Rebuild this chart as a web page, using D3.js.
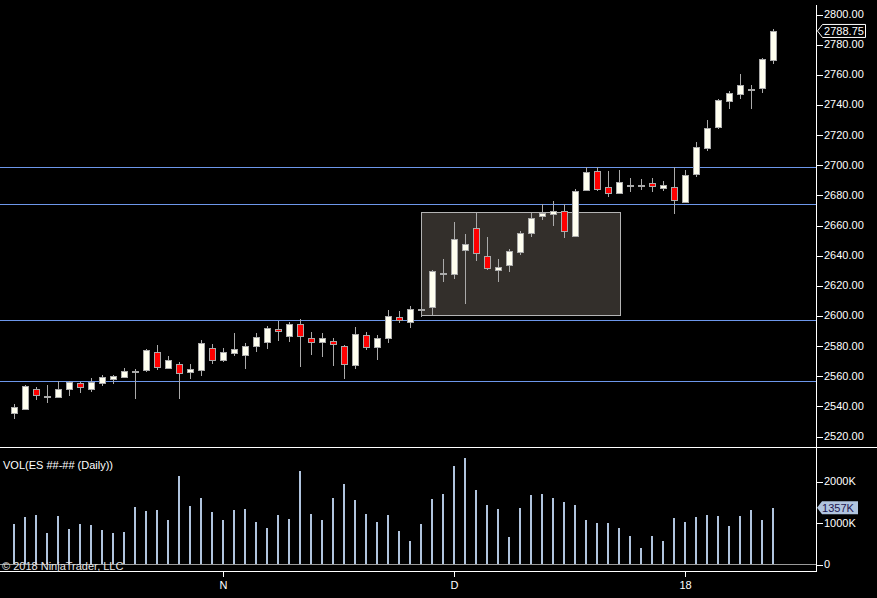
<!DOCTYPE html>
<html>
<head>
    <title>ES Daily</title>
    <script src="https://d3js.org/d3.v7.min.js"></script>
    <style>
        body { margin: 0; background: #000; }
        svg { display: block; }
        text { font-family: Arial, "Liberation Sans", sans-serif; font-size: 11px; fill: #fff; }
        .axis line { stroke: #fff; shape-rendering: crispEdges; }
        .axis path { display: none; }
    </style>
</head>
<body>
    <div id="chart"></div>
    <script>
        const width = 877, height = 598

        // daily bars, oldest first
        const opens = [2535.5, 2538, 2551.5, 2546.5, 2546, 2551.5, 2555, 2551, 2555, 2558,
            2559.25, 2563.5, 2563.5, 2575.5, 2565.25, 2567.5, 2562.25, 2564, 2578.25, 2570.5,
            2575.25, 2574, 2580, 2582.5, 2590.75, 2586.5, 2594, 2584.75, 2582.5, 2582.75,
            2579.5, 2567, 2586.75, 2578.75, 2584.75, 2598.75, 2595.75, 2604.5, 2605.5, 2628.5,
            2627.75, 2643.5, 2657.75, 2639.25, 2630, 2633.25, 2642.25, 2655, 2666.25, 2667.5,
            2669, 2653, 2683, 2695.5, 2685, 2681.25, 2686.75, 2686.5, 2687.75, 2684.25,
            2685, 2675.25, 2694, 2711, 2725.25, 2742.25, 2746.75, 2750.25, 2750.75, 2769.25]
        const highs = [2541, 2554, 2552.75, 2554, 2556.25, 2556.25, 2556, 2558.25, 2560.25, 2560.25,
            2565, 2564.25, 2577.5, 2580.5, 2573, 2569, 2567.75, 2583.5, 2580.75, 2578.25,
            2588.25, 2581.75, 2588.25, 2593, 2596.25, 2595.5, 2597.5, 2589, 2588.25, 2585,
            2580.25, 2592, 2589, 2586.75, 2603.5, 2603, 2606.25, 2606, 2630, 2637.5,
            2662, 2654, 2668.25, 2652, 2637.5, 2644.25, 2656, 2668.25, 2673.75, 2676,
            2674, 2683.75, 2698.25, 2698.25, 2695.75, 2696.5, 2691.5, 2690.25, 2691, 2689.25,
            2698.25, 2696.5, 2714.75, 2729.75, 2743.5, 2749, 2760.5, 2752.75, 2770.75, 2790.25]
        const lows = [2531.5, 2537, 2544, 2542, 2545.5, 2546.75, 2548.75, 2549.5, 2553.5, 2554.75,
            2558.75, 2544.75, 2562.25, 2564, 2564.5, 2544.25, 2557.75, 2560, 2568, 2569,
            2573.25, 2564.5, 2575.75, 2577.75, 2583.25, 2582.5, 2566, 2574, 2572.5, 2566.5,
            2558, 2564.5, 2577, 2570.5, 2582, 2595.25, 2591.75, 2599, 2600, 2622.5,
            2624.5, 2607.75, 2636.25, 2630, 2622.5, 2629, 2640.25, 2652.25, 2663.25, 2659.25,
            2651.5, 2652.25, 2682.75, 2682.5, 2678.75, 2680.75, 2682, 2683.25, 2682, 2682.5,
            2667.5, 2674.75, 2692, 2709, 2724, 2736.75, 2743.5, 2736.75, 2747.75, 2767]
        const closes = [2539, 2553, 2547.5, 2546.25, 2551.5, 2555.75, 2552.25, 2555.5, 2559, 2559.5,
            2563, 2563.25, 2577, 2566, 2570.25, 2561.5, 2564.25, 2581.5, 2570.5, 2575.75,
            2577.5, 2579.75, 2585.75, 2591.5, 2589.5, 2594.25, 2586.5, 2582.25, 2584.75, 2580.75,
            2567.5, 2588, 2578.75, 2584.75, 2599.5, 2597, 2604, 2604.25, 2629.5, 2628.25,
            2651, 2647.25, 2641.25, 2631.25, 2632, 2642.75, 2654.75, 2664.5, 2668, 2669,
            2656.25, 2682.25, 2695.25, 2684, 2681.5, 2688.25, 2686.5, 2686.75, 2686, 2686.5,
            2676.5, 2693, 2711.5, 2724.25, 2742.75, 2747.5, 2752.75, 2750, 2770, 2788.75]
        // volume in thousands of contracts
        const volumes = [964, 1133, 1181, 747, 1157, 843, 964, 940, 819, 747,
            771, 1373, 1277, 1301, 1060, 2120, 1398, 1590, 1253, 1060,
            1301, 1325, 1012, 867, 1181, 1084, 2241, 1205, 1060, 1590,
            1928, 1542, 1205, 1012, 1181, 795, 554, 964, 1566, 1687,
            2361, 2554, 1783, 1422, 1325, 651, 1349, 1663, 1687, 1590,
            1494, 1422, 1060, 988, 988, 867, 675, 386, 675, 554,
            1108, 1012, 1133, 1181, 1157, 916, 1157, 1301, 1060, 1357]

        // month labels on the time axis (bar index where the month starts)
        const monthStarts = [19, 40, 61]
        const monthLabels = ["N", "D", "18"]

        // drawn objects
        const levelPrices = [2698.5, 2674, 2597, 2556.5]
        const zoneBars = [37, 55.1]
        const zonePrices = [2600.25, 2668.5]

        const priceTicks = d3.range(2520, 2801, 20)
        const volumeTicks = [0, 1000, 2000]

        const bars = closes.map((c, i) => ({ i, o: opens[i], h: highs[i], l: lows[i], c, v: volumes[i] }))

        const axisX = 816
        const x = d3.scaleLinear().domain([0, bars.length - 1]).range([13.7, 772.7])
        const y = d3.scaleLinear().domain([2520, 2800]).range([436, 14])
        const yv = d3.scaleLinear().domain([0, 2000]).range([564, 481])

        const svg = d3.select("#chart").append("svg")
            .attr("width", width)
            .attr("height", height)
        svg.append("rect").attr("width", width).attr("height", height).attr("fill", "#000")

        const px = v => Math.round(v) + 0.5

        // zone box
        svg.append("rect")
            .attr("x", px(x(zoneBars[0])))
            .attr("y", px(y(zonePrices[1])))
            .attr("width", Math.round(x(zoneBars[1]) - x(zoneBars[0])))
            .attr("height", Math.round(y(zonePrices[0]) - y(zonePrices[1])))
            .attr("fill", "#332f2b")
            .attr("stroke", "#b4b4b4")
            .attr("stroke-width", 1)
            .attr("shape-rendering", "crispEdges")

        // horizontal levels
        svg.append("g").selectAll("line")
            .data(levelPrices)
            .join("line")
            .attr("x1", 0)
            .attr("x2", axisX)
            .attr("y1", d => px(y(d)))
            .attr("y2", d => px(y(d)))
            .attr("stroke", "#6d97ea")
            .attr("shape-rendering", "crispEdges")

        // candles
        const candles = svg.append("g").attr("shape-rendering", "crispEdges")
        const groups = candles.selectAll("g")
            .data(bars)
            .join("g")

        groups.append("line")
            .attr("x1", d => Math.round(x(d.i)) + 0.5)
            .attr("x2", d => Math.round(x(d.i)) + 0.5)
            .attr("y1", d => Math.round(y(d.h)))
            .attr("y2", d => Math.round(y(d.l)))
            .attr("stroke", "#aaaaaa")

        groups.filter(d => Math.abs(d.o - d.c) < 0.5)
            .append("line")
            .attr("x1", d => Math.round(x(d.i)) - 3)
            .attr("x2", d => Math.round(x(d.i)) + 4)
            .attr("y1", d => px(y(d.c)))
            .attr("y2", d => px(y(d.c)))
            .attr("stroke", "#aaaaaa")
            .attr("stroke-width", 2)

        groups.filter(d => Math.abs(d.o - d.c) >= 0.5)
            .append("rect")
            .attr("x", d => Math.round(x(d.i)) - 2.5)
            .attr("width", 6)
            .attr("y", d => px(y(Math.max(d.o, d.c))))
            .attr("height", d => Math.max(1, Math.round(y(Math.min(d.o, d.c))) - Math.round(y(Math.max(d.o, d.c)))))
            .attr("fill", d => d.c > d.o ? "#fffff0" : "#ff0000")
            .attr("stroke", "#aaaaaa")

        // volume bars
        svg.append("line")
            .attr("x1", 0).attr("x2", axisX)
            .attr("y1", px(yv(0))).attr("y2", px(yv(0)))
            .attr("stroke", "#9a9a9a")
            .attr("shape-rendering", "crispEdges")

        svg.append("g").selectAll("rect")
            .data(bars)
            .join("rect")
            .attr("x", d => Math.round(x(d.i)) - 1)
            .attr("width", 2)
            .attr("y", d => Math.round(yv(d.v)))
            .attr("height", d => Math.round(yv(0)) - Math.round(yv(d.v)))
            .attr("fill", "#b0c4de")
            .attr("shape-rendering", "crispEdges")

        // frame lines
        const frame = svg.append("g").attr("stroke", "#ffffff").attr("shape-rendering", "crispEdges")
        frame.append("line").attr("x1", axisX + 0.5).attr("x2", axisX + 0.5).attr("y1", 5).attr("y2", 571)
        frame.append("line").attr("x1", 0).attr("x2", width).attr("y1", 447.5).attr("y2", 447.5)
        frame.append("line").attr("x1", 0).attr("x2", axisX + 1).attr("y1", 571.5).attr("y2", 571.5)

        // price axis
        svg.append("g")
            .attr("class", "axis")
            .attr("transform", `translate(${axisX + 1},0)`)
            .call(d3.axisRight(y).tickValues(priceTicks).tickFormat(d3.format(".2f")).tickSize(6).tickPadding(1))
            .call(g => g.selectAll(".tick line").attr("transform", "translate(0,0.5)"))

        // volume axis
        svg.append("g")
            .attr("class", "axis")
            .attr("transform", `translate(${axisX + 1},0)`)
            .call(d3.axisRight(yv).tickValues(volumeTicks).tickFormat(d => d === 0 ? "0" : d + "K").tickSize(6).tickPadding(1))
            .call(g => g.selectAll(".tick line").attr("transform", "translate(0,0.5)"))

        // time axis
        svg.append("g")
            .attr("class", "axis")
            .attr("transform", "translate(0,572)")
            .call(d3.axisBottom(x).tickValues(monthStarts)
                .tickFormat((d, k) => monthLabels[k]).tickSize(5).tickPadding(4))
            .call(g => g.selectAll(".tick").attr("transform", d => `translate(${Math.round(x(d)) + 0.5},0)`))

        // last price marker
        const last = bars[bars.length - 1]
        const lp = y(last.c)
        svg.append("path")
            .attr("d", `M${axisX + 1.5},${lp} L${axisX + 6.5},${lp - 6.5} H865.5 V${lp + 6.5} H${axisX + 6.5} Z`)
            .attr("fill", "#000")
            .attr("stroke", "#fff")
        svg.append("text")
            .attr("x", 844)
            .attr("y", lp)
            .attr("dy", "0.36em")
            .attr("text-anchor", "middle")
            .text(d3.format(".2f")(last.c))

        // last volume marker
        const lv = yv(last.v)
        svg.append("path")
            .attr("d", `M${axisX + 1},${lv} L${axisX + 6},${lv - 6.5} H858 V${lv + 6.5} H${axisX + 6} Z`)
            .attr("fill", "#b0c4de")
        svg.append("text")
            .attr("x", 838)
            .attr("y", lv)
            .attr("dy", "0.36em")
            .attr("text-anchor", "middle")
            .style("fill", "#1e1650")
            .text(last.v + "K")

        // labels
        svg.append("text").attr("x", 3).attr("y", 469).text("VOL(ES ##-## (Daily))")
        svg.append("text").attr("x", 2).attr("y", 570).style("fill", "#e6e6e6").text("\u00a9 2018 NinjaTrader, LLC")
    </script>
</body>
</html>
